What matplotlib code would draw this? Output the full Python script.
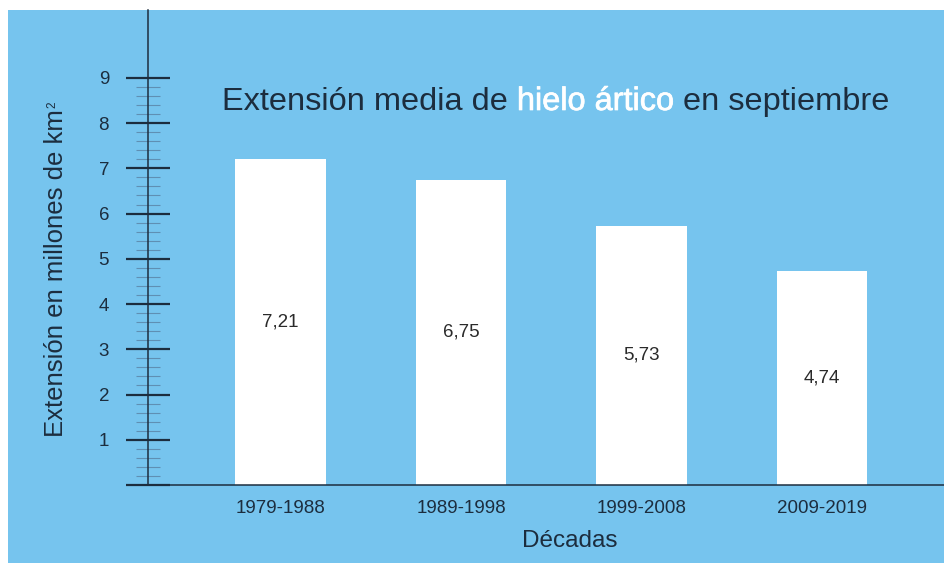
import matplotlib
matplotlib.use("Agg")
import matplotlib.pyplot as plt
import matplotlib.patheffects as pe
from matplotlib.patches import Rectangle
from matplotlib.ticker import FixedLocator
import numpy as np

# ---- data ----
decades = ["1979-1988", "1989-1998", "1999-2008", "2009-2019"]
extent = [7.21, 6.75, 5.73, 4.74]
value_labels = ["7,21", "6,75", "5,73", "4,74"]
yticks = [0, 1, 2, 3, 4, 5, 6, 7, 8, 9]
ytick_labels = ["", "1", "2", "3", "4", "5", "6", "7", "8", "9"]

plt.rcParams['font.family'] = ['Liberation Sans', 'DejaVu Sans']

BG = '#76C4EE'
DARK = '#1c2d3e'

W, H = 945, 563
fig = plt.figure(figsize=(W / 100, H / 100), dpi=100, facecolor='white')
fig.patches.append(Rectangle((8 / W, 0), 1 - 8 / W, 1 - 10 / H,
                             transform=fig.transFigure, facecolor=BG,
                             edgecolor='none', zorder=-10))

ax = fig.add_axes([148 / W, (H - 485) / H, (W - 148) / W, 475 / H])
ax.set_facecolor('none')
ax.set_zorder(1)

x = np.arange(len(decades))
ax.bar(x, extent, width=0.5, color='white', zorder=2)
for xi, v, lab in zip(x, extent, value_labels):
    ax.text(xi, v / 2, lab, ha='center', va='center', fontsize=13.5,
            color='#2a2a2a', zorder=3)

ax.set_xlim(-0.734, 3.681)
ax.set_ylim(0, 10.5)

for s in ['top', 'right']:
    ax.spines[s].set_visible(False)
ax.spines['left'].set_color(DARK)
ax.spines['bottom'].set_color(DARK)
ax.spines['left'].set_linewidth(1.1)
ax.spines['bottom'].set_linewidth(1.1)

ax.set_xticks(x)
ax.set_xticklabels(decades, fontsize=13.5, color=DARK)
ax.tick_params(axis='x', length=0, pad=11)

ax.set_yticks(yticks)
ax.set_yticklabels(ytick_labels, fontsize=13.5, color=DARK)
ax.yaxis.set_minor_locator(FixedLocator([i * 0.2 for i in range(1, 45) if i % 5 != 0]))
ax.tick_params(axis='y', which='major', direction='inout', length=31,
               width=1.6, color=DARK, pad=12.5)
ax.tick_params(axis='y', which='minor', direction='inout', length=17,
               width=0.8, color='#5f8fb3')

ax.set_xlabel("Décadas", fontsize=17.5, color=DARK)
ax.xaxis.set_label_coords((570 - 148) / 797, (485 - 530) / 475)

# y label with a small superscript 2
ylab = fig.text(56 / W, 1 - 437 / H, "Extensión en millones de km", rotation=90,
                ha='center', va='bottom', fontsize=18.5, color=DARK)
sup = ax.annotate("2", xy=(0, 1), xycoords=ylab, xytext=(1.5, 1.0),
                  textcoords='offset points', rotation=90, fontsize=8.5,
                  color=DARK, ha='left', va='bottom', annotation_clip=False)

# ---- title in three colours ----
fs_t = 23.4
sp = 0.278 * fs_t
t1 = fig.text(222 / W, 1 - 110 / H, "Extensión media de", fontsize=fs_t,
              color=DARK, ha='left', va='baseline')
t2 = ax.annotate("hielo ártico", xy=(1, 0), xycoords=t1, xytext=(sp, 0),
                 textcoords='offset points', fontsize=fs_t, color='white',
                 ha='left', va='bottom', annotation_clip=False,
                 path_effects=[pe.withStroke(linewidth=0.5, foreground='white')])
t3 = ax.annotate("en septiembre", xy=(1, 0), xycoords=t2, xytext=(sp, 0),
                 textcoords='offset points', fontsize=fs_t, color=DARK,
                 ha='left', va='bottom', annotation_clip=False)

fig.savefig("out.png", dpi=100, facecolor=fig.get_facecolor())
